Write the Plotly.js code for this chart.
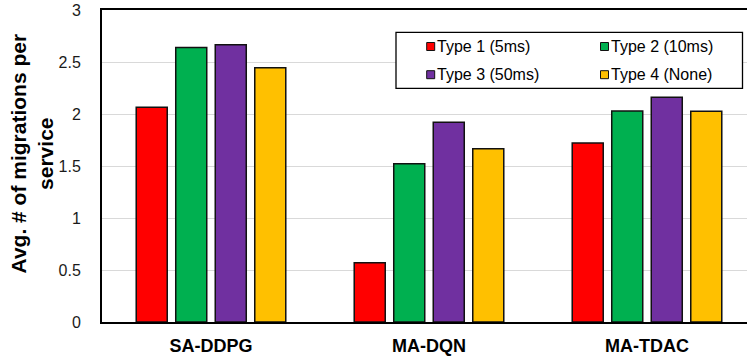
<!DOCTYPE html>
<html>
<head>
<meta charset="utf-8">
<script src="https://cdn.plot.ly/plotly-3.0.1.min.js"></script>
<style>
  html, body { margin: 0; padding: 0; background: #ffffff; }
  #chart { width: 747px; height: 359px; }
</style>
</head>
<body>
<div id="chart"></div>
<script>
// Average number of migrations per service, by method and service type
const categories = ['SA-DDPG', 'MA-DQN', 'MA-TDAC'];
const type1 = [2.064, 0.570, 1.721];
const type2 = [2.640, 1.522, 2.029];
const type3 = [2.667, 1.920, 2.160];
const type4 = [2.445, 1.667, 2.026];
const seriesNames = ['Type 1 (5ms)', 'Type 2 (10ms)', 'Type 3 (50ms)', 'Type 4 (None)'];
const yTickVals = [0, 0.5, 1, 1.5, 2, 2.5, 3];
const yTickText = ['0', '0.5', '1', '1.5', '2', '2.5', '3'];

const colors = ['#FF0000', '#00B050', '#7030A0', '#FFC000'];
const seriesValues = [type1, type2, type3, type4];
const FONT = 'Liberation Sans, Arial, sans-serif';

const W = 747, H = 359;
const M = { l: 102, r: 0, t: 10, b: 37 };
const plotW = W - M.l - M.r;
const plotH = H - M.t - M.b;
// pixel -> paper coordinate helpers for the boxed legend
const px = x => (x - M.l) / plotW;
const py = y => (H - M.b - y) / plotH;

const traces = seriesValues.map((vals, i) => ({
  type: 'bar',
  name: seriesNames[i],
  x: categories,
  y: vals,
  marker: { color: colors[i], line: { color: '#111111', width: 1.5 } },
  showlegend: false,
  hoverinfo: 'x+y+name'
}));

// Two-column legend inside a black frame
const shapes = [{
  type: 'rect', xref: 'paper', yref: 'paper',
  x0: px(396), x1: px(742.5), y0: py(88.3), y1: py(32.3),
  line: { color: '#000000', width: 1.3 }, fillcolor: 'rgba(255,255,255,1)', layer: 'above'
}];
const annotations = [];
const colX = [426.7, 600.5];
const rowY = [46.5, 74.7];
const sq = 8;
seriesNames.forEach((name, i) => {
  const cx = colX[i % 2], cy = rowY[Math.floor(i / 2)];
  shapes.push({
    type: 'rect', xref: 'paper', yref: 'paper',
    x0: px(cx), x1: px(cx + sq), y0: py(cy + sq / 2), y1: py(cy - sq / 2),
    line: { color: '#111111', width: 1 }, fillcolor: colors[i], layer: 'above'
  });
  annotations.push({
    xref: 'paper', yref: 'paper', x: px(cx + sq + 1), y: py(cy),
    xanchor: 'left', yanchor: 'middle', showarrow: false,
    text: name, borderpad: 0,
    font: { family: FONT, size: 16, color: '#000000' }
  });
});

// y-axis title, two lines, rotated
annotations.push({
  xref: 'paper', yref: 'paper', x: px(31), y: py(153.5),
  xanchor: 'center', yanchor: 'middle', showarrow: false, textangle: -90,
  align: 'center',
  text: '<b>Avg. # of migrations per<br>service</b>',
  font: { family: FONT, size: 21, color: '#000000' }
});

const layout = {
  width: W, height: H,
  margin: M,
  paper_bgcolor: '#ffffff', plot_bgcolor: '#ffffff',
  barmode: 'group',
  bargap: 0.275,
  bargroupgap: 0.215,
  xaxis: {
    type: 'category',
    range: [-0.5, -0.5 + plotW / 218],
    showline: true, linecolor: '#000000', linewidth: 2, mirror: true,
    showgrid: false, zeroline: false, ticks: '',
    ticklabelstandoff: 6,
    tickfont: { family: FONT, size: 18, color: '#000000', weight: 'bold' }
  },
  yaxis: {
    range: [0, 3],
    tickvals: yTickVals, ticktext: yTickText,
    showline: true, linecolor: '#000000', linewidth: 2,
    showgrid: true, gridcolor: '#d9d9d9', gridwidth: 1,
    zeroline: false, ticks: '',
    ticklabelstandoff: 16,
    tickfont: { family: FONT, size: 16, color: '#1a1a1a' }
  },
  shapes: shapes,
  annotations: annotations,
  showlegend: false
};

Plotly.newPlot('chart', traces, layout, { displayModeBar: false, staticPlot: true });
</script>
</body>
</html>
